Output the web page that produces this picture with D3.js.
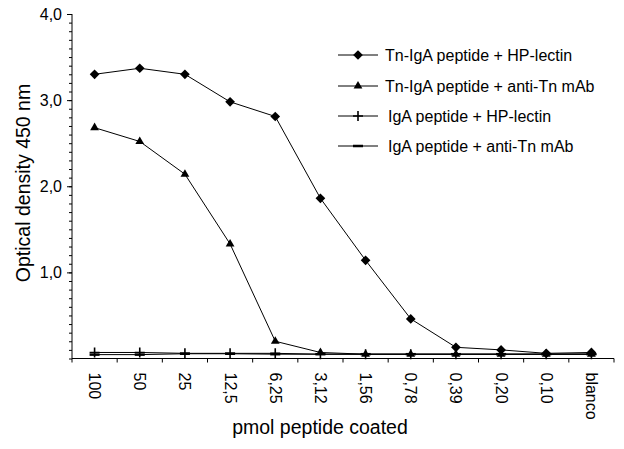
<!DOCTYPE html>
<html>
<head>
<meta charset="utf-8">
<script src="https://cdn.jsdelivr.net/npm/d3@7"></script>
<style>
  body { margin: 0; background: #fff; }
  svg { display: block; font-family: "Liberation Sans", Arial, sans-serif; }
</style>
</head>
<body>
<script>
const w = 624;
const h = 449;

// data
const categories = ["100", "50", "25", "12,5", "6,25", "3,12", "1,56", "0,78", "0,39", "0,20", "0,10", "blanco"];
const tnHpLectin = [3.30, 3.37, 3.30, 2.98, 2.81, 1.86, 1.14, 0.46, 0.13, 0.10, 0.06, 0.07];
const tnAntiTn   = [2.68, 2.52, 2.14, 1.33, 0.20, 0.07, 0.05, 0.05, 0.05, 0.05, 0.05, 0.05];
const igaHpLectin = [0.07, 0.07, 0.06, 0.06, 0.06, 0.05, 0.05, 0.05, 0.05, 0.05, 0.05, 0.05];
const igaAntiTn   = [0.045, 0.045, 0.055, 0.055, 0.05, 0.05, 0.05, 0.05, 0.05, 0.05, 0.05, 0.05];
const seriesNames = [
    "Tn-IgA peptide + HP-lectin",
    "Tn-IgA peptide + anti-Tn mAb",
    "IgA peptide + HP-lectin",
    "IgA peptide + anti-Tn mAb"
];
const yMajorTicks = [1, 2, 3, 4];

const series = [
    { name: seriesNames[0], values: tnHpLectin, marker: "diamond" },
    { name: seriesNames[1], values: tnAntiTn, marker: "triangle" },
    { name: seriesNames[2], values: igaHpLectin, marker: "plus" },
    { name: seriesNames[3], values: igaAntiTn, marker: "dash" }
];

const svg = d3.select("body").append("svg")
    .attr("width", w)
    .attr("height", h);

const x = d3.scaleBand().domain(categories).range([72, 614]).padding(0);
const y = d3.scaleLinear().domain([0, 4]).range([358.5, 14]);

// y axis: minor ticks every 0.1, labels on whole units
svg.append("g")
    .attr("transform", "translate(72,0)")
    .call(d3.axisLeft(y).tickValues(d3.range(0, 40).map(d => d / 10)).tickSize(3).tickFormat(""))
    .call(g => g.select(".domain").remove());

svg.append("g")
    .attr("transform", "translate(72,0)")
    .call(d3.axisLeft(y).tickValues(yMajorTicks).tickSize(5).tickPadding(5)
        .tickFormat(d => d3.format(".1f")(d).replace(".", ",")))
    .call(g => g.selectAll("text").attr("font-size", 16).attr("font-family", "Liberation Sans, Arial, sans-serif").attr("fill", "#000"))
    .call(g => g.select(".domain").attr("d", `M0,${y(4)}V${y(0)}`));

// x axis: ticks on band boundaries, rotated labels
const xAxis = svg.append("g").attr("transform", `translate(0,${y(0)})`);
xAxis.append("line")
    .attr("x1", x.range()[0]).attr("x2", x.range()[1])
    .attr("stroke", "#000");
xAxis.selectAll(".bound")
    .data(categories.concat(["end"]))
    .enter().append("line")
    .attr("x1", (d, i) => i < categories.length ? x(d) : x.range()[1])
    .attr("x2", (d, i) => i < categories.length ? x(d) : x.range()[1])
    .attr("y1", 0).attr("y2", 4)
    .attr("stroke", "#000");
xAxis.selectAll(".lbl")
    .data(categories)
    .enter().append("text")
    .attr("transform", d => `translate(${x(d) + x.bandwidth() / 2},14) rotate(90)`)
    .attr("dominant-baseline", "central")
    .attr("font-size", 16)
    .text(d => d);

// axis titles
svg.append("text")
    .attr("x", 320).attr("y", 434)
    .attr("text-anchor", "middle")
    .attr("font-size", 19.5)
    .text("pmol peptide coated");

svg.append("text")
    .attr("transform", "translate(30,183) rotate(-90)")
    .attr("text-anchor", "middle")
    .attr("font-size", 19.5)
    .text("Optical density 450 nm");

// markers
function drawMarker(g, type) {
    if (type === "diamond") {
        g.append("path").attr("d", d3.symbol().type(d3.symbolDiamond2).size(60)).attr("fill", "#000");
    } else if (type === "triangle") {
        g.append("path").attr("d", d3.symbol().type(d3.symbolTriangle2).size(55)).attr("fill", "#000");
    } else if (type === "plus") {
        g.append("path").attr("d", "M-5,0H5M0,-5V5").attr("stroke", "#000").attr("stroke-width", 1.6);
    } else {
        g.append("path").attr("d", "M-5,0H5").attr("stroke", "#000").attr("stroke-width", 2.5);
    }
}

const line = d3.line()
    .x((d, i) => x(categories[i]) + x.bandwidth() / 2)
    .y(d => y(d));

// draw back to front so the upper series sit on top
series.slice().reverse().forEach(s => {
    svg.append("path")
        .datum(s.values)
        .attr("d", line)
        .attr("fill", "none")
        .attr("stroke", "#000")
        .attr("stroke-width", 1);
    s.values.forEach((v, i) => {
        const g = svg.append("g")
            .attr("transform", `translate(${x(categories[i]) + x.bandwidth() / 2},${y(v)})`);
        drawMarker(g, s.marker);
    });
});

// legend
const legendY = [55, 86, 116, 146];
const legendTextX = [385, 385, 388, 388];
series.forEach((s, i) => {
    const g = svg.append("g").attr("transform", `translate(0,${legendY[i]})`);
    g.append("line").attr("x1", 338).attr("x2", 378).attr("stroke", "#000");
    drawMarker(g.append("g").attr("transform", "translate(358,0)"), s.marker);
    g.append("text")
        .attr("x", legendTextX[i]).attr("y", 0)
        .attr("dominant-baseline", "central")
        .attr("font-size", 16)
        .text(s.name);
});
</script>
</body>
</html>
